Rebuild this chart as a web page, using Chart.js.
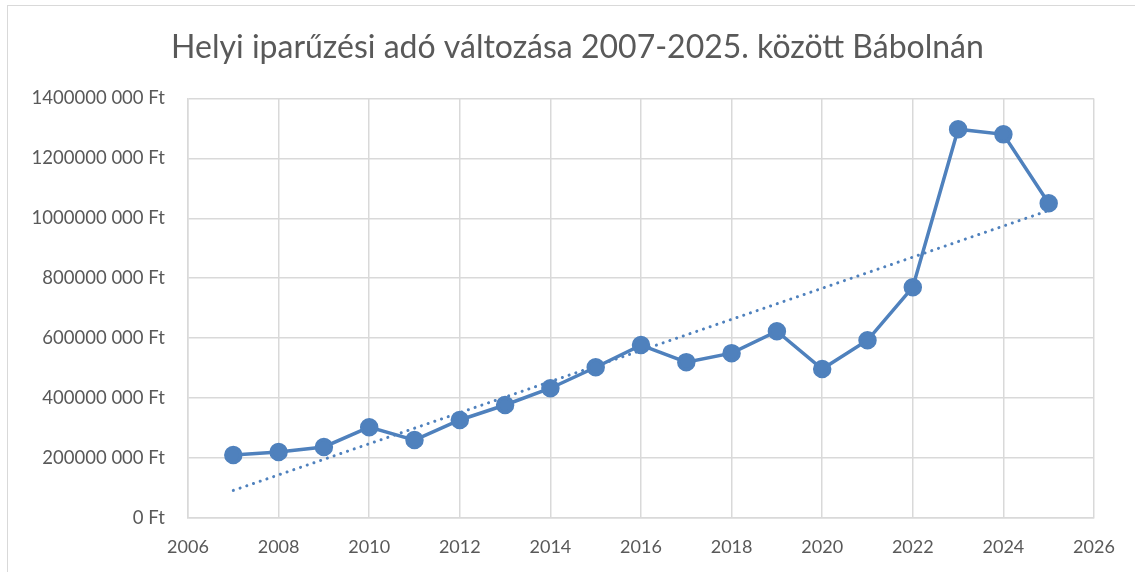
<!DOCTYPE html>
<html>
<head>
<meta charset="utf-8">
<script src="https://cdn.jsdelivr.net/npm/chart.js@4"></script>
<style>
	html, body { margin: 0; padding: 0; background: #fff; overflow: hidden; }
	#wrap { position: relative; width: 1135px; height: 572px; }
	#frame { position: absolute; left: 7px; top: 5px; width: 1150px; height: 600px; border: 1px solid #d9d9d9; box-sizing: border-box; }
	#chart { position: absolute; left: 0; top: 0; }
</style>
</head>
<body>
<div id="wrap">
	<div id="frame"></div>
	<canvas id="chart" width="1135" height="572"></canvas>
</div>
<script>
const years = [2007, 2008, 2009, 2010, 2011, 2012, 2013, 2014, 2015, 2016, 2017, 2018, 2019, 2020, 2021, 2022, 2023, 2024, 2025];
const values = [210e6, 220e6, 237e6, 303e6, 260e6, 327e6, 377e6, 433e6, 503e6, 577e6, 520e6, 550e6, 623e6, 497e6, 593e6, 770e6, 1297e6, 1280e6, 1050e6];
const trendYears = [2007, 2025];
const trendValues = [92e6, 1026e6];
const yTickLabels = ['0 Ft', '200000 000 Ft', '400000 000 Ft', '600000 000 Ft', '800000 000 Ft', '1000000 000 Ft', '1200000 000 Ft', '1400000 000 Ft'];
const xTickLabels = ['2006', '2008', '2010', '2012', '2014', '2016', '2018', '2020', '2022', '2024', '2026'];

(function () {
	const $chart = document.getElementById('chart');
	const blue = '#4f81bd';
	const font = 'Lato, "Open Sans", sans-serif';

	// Excel centres the title inside its frame, not over the padded area
	const titleShift = {
		id: 'titleShift',
		afterLayout(chart) {
			chart.titleBlock.left = 20;
			chart.titleBlock.right = chart.width;
		},
	};

	const data = {
		datasets: [
			{
				label: 'Helyi iparűzési adó',
				data: years.map((year, i) => ({ x: year, y: values[i] })),
				borderColor: blue,
				backgroundColor: blue,
				borderWidth: 3.5,
				pointRadius: 7.5,
				pointBackgroundColor: blue,
				pointBorderColor: blue,
				tension: 0,
			},
			{
				label: 'Trend',
				data: trendYears.map((year, i) => ({ x: year, y: trendValues[i] })),
				borderColor: blue,
				borderWidth: 3,
				borderDash: [0.1, 7],
				borderCapStyle: 'round',
				pointRadius: 0,
				order: 2,
			},
		],
	};

	const config = {
		type: 'line',
		data: data,
		plugins: [titleShift],
		options: {
			responsive: false,
			animation: false,
			layout: { padding: { left: 0, right: 41, top: 0, bottom: 0 } },
			scales: {
				x: {
					type: 'linear',
					min: 2006,
					max: 2026,
					ticks: {
						stepSize: 2,
						padding: 18,
						color: '#595959',
						font: { family: font, size: 18 },
						callback: (value) => xTickLabels[(value - 2006) / 2],
					},
					grid: { color: '#d9d9d9', lineWidth: 1.5, drawTicks: false },
					border: { color: '#d9d9d9', width: 1.5 },
					afterFit: (scale) => { scale.height = 54; },
				},
				y: {
					min: 0,
					max: 1400e6,
					ticks: {
						stepSize: 200e6,
						padding: 23,
						color: '#595959',
						font: { family: font, size: 18.5 },
						callback: (value) => yTickLabels[value / 200e6],
					},
					grid: { color: '#d9d9d9', lineWidth: 1.5, drawTicks: false },
					border: { color: '#d9d9d9', width: 1.5 },
					afterFit: (scale) => { scale.width = 188; },
				},
			},
			plugins: {
				legend: { display: false },
				tooltip: { enabled: false },
				title: {
					display: true,
					text: 'Helyi iparűzési adó változása 2007-2025. között Bábolnán',
					color: '#595959',
					font: { family: font, size: 32, weight: 'normal' },
					padding: { top: 28, bottom: 32 },
				},
			},
		},
	};

	new Chart($chart, config);
})();
</script>
</body>
</html>
